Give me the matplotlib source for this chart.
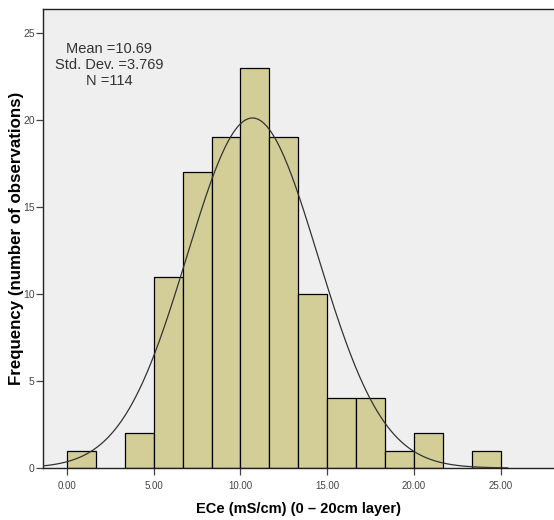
import numpy as np
import matplotlib
matplotlib.use("Agg")
import matplotlib.pyplot as plt

plt.rcParams['font.family'] = ['Liberation Sans', 'DejaVu Sans']

# histogram bins (width 25/15) and counts
bin_edges = [0.0, 1.667, 3.333, 5.0, 6.667, 8.333, 10.0, 11.667, 13.333,
             15.0, 16.667, 18.333, 20.0, 21.667, 23.333, 25.0]
counts = [1, 0, 2, 11, 17, 19, 23, 19, 10, 4, 4, 1, 2, 0, 1]

mean = 10.69
std = 3.769
n = 114

xticks = [0, 5, 10, 15, 20, 25]
xticklabels = ['0.00', '5.00', '10.00', '15.00', '20.00', '25.00']
yticks = [0, 5, 10, 15, 20, 25]

fig = plt.figure(figsize=(5.54, 5.2), dpi=100)
ax = fig.add_axes([43 / 554, 52 / 520, 511 / 554, 459.5 / 520])
ax.set_facecolor('#efefef')

edges = np.array(bin_edges)
widths = np.diff(edges)
for left, w, c in zip(edges[:-1], widths, counts):
    if c > 0:
        ax.bar(left, c, width=w, align='edge', color='#d3ce98',
               edgecolor='black', linewidth=0.9, zorder=2)

# fitted normal curve
xs = np.linspace(-1.4, 25.4, 400)
bw = widths.mean()
ys = n * bw / (std * np.sqrt(2 * np.pi)) * np.exp(-0.5 * ((xs - mean) / std) ** 2)
ax.plot(xs, ys, color='#333333', linewidth=0.9, zorder=3)

ax.set_xlim(-1.38, 28.07)
ax.set_ylim(0, 26.4)
ax.set_xticks(xticks)
ax.set_xticklabels(xticklabels)
ax.set_yticks(yticks)
ax.tick_params(axis='both', direction='out', length=5, width=0.9,
               labelcolor='#444444', colors='#444444')
ax.tick_params(axis='x', pad=4.5, labelsize=7)
ax.tick_params(axis='y', pad=1, labelsize=7.5)

for s in ['left', 'bottom', 'top']:
    ax.spines[s].set_color('#222222')
    ax.spines[s].set_linewidth(1.0)
ax.spines['right'].set_visible(False)

ax.set_xlabel('ECe (mS/cm) (0 \u2013 20cm layer)', fontsize=10.5,
              fontweight='bold', labelpad=8)
ax.set_ylabel('Frequency (number of observations)', fontsize=12.2,
              fontweight='bold')
ax.yaxis.set_label_coords(-0.037, 0.5)

ax.text(0.129, 0.927, 'Mean =10.69\nStd. Dev. =3.769\nN =114',
        transform=ax.transAxes, ha='center', va='top', fontsize=10.5,
        color='#333333', linespacing=1.2)

fig.savefig('out.png', dpi=100)
